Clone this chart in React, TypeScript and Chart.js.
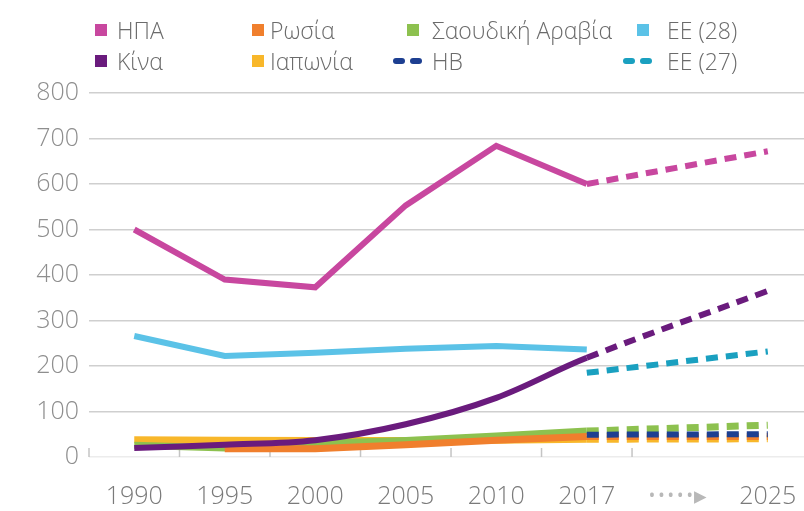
import React, { useEffect, useRef } from 'react';
import { Chart, registerables } from 'chart.js';

Chart.register(...registerables);

// ---- data ----
const xLabels = ['1990', '1995', '2000', '2005', '2010', '2017', '•••••▸', '2025'];
const usa = [500, 390, 373, 553, 684, 600, null, 672];
const china = [20, 27, 37, 72, 130, 218, null, 365];
const russia = [null, 18, 18, 27, 37, 45, null, 45];
const japan = [38, 37, 36, 36, 37, 39, null, 40];
const saudi = [26, 20, 30, 36, 46, 57, null, 70];
const eu28 = [266, 222, 229, 238, 244, 236, null, null];
const uk = [null, null, null, null, null, 49, null, 50];
const eu27 = [null, null, null, null, null, 185, null, 232];
const yTicks = [0, 100, 200, 300, 400, 500, 600, 700, 800];

const FONT = '"Open Sans", sans-serif';

const C = {
  usa: '#c8479f',
  china: '#6a1b7d',
  russia: '#f07f2d',
  japan: '#f8b72a',
  saudi: '#8dc14f',
  eu28: '#5bc2e7',
  uk: '#1d3f91',
  eu27: '#1aa0c0',
};

const toPts = (arr: (number | null)[]) => arr.map((v, i) => ({ x: i, y: v }));

const legendItems = [
  { label: 'ΗΠΑ', color: C.usa, kind: 'box', mx: 95, tx: 117, row: 0 },
  { label: 'Ρωσία', color: C.russia, kind: 'box', mx: 252, tx: 270, row: 0 },
  { label: 'Σαουδική Αραβία', color: C.saudi, kind: 'box', mx: 407, tx: 432, row: 0 },
  { label: 'ΕΕ (28)', color: C.eu28, kind: 'box', mx: 637, tx: 667, row: 0 },
  { label: 'Κίνα', color: C.china, kind: 'box', mx: 95, tx: 117, row: 1 },
  { label: 'Ιαπωνία', color: C.japan, kind: 'box', mx: 252, tx: 270, row: 1 },
  { label: 'ΗΒ', color: C.uk, kind: 'dash', mx: 393, tx: 432, row: 1 },
  { label: 'ΕΕ (27)', color: C.eu27, kind: 'dash', mx: 623, tx: 667, row: 1 },
];

const tickMarks = {
  id: 'tickMarks',
  beforeDatasetsDraw(chart: any) {
    const xs = chart.scales.x;
    const bottom = chart.chartArea.bottom;
    const ctx = chart.ctx;
    ctx.save();
    ctx.strokeStyle = '#c4c4c4';
    ctx.lineWidth = 1.5;
    for (let i = 0; i <= 6; i++) {
      const px = xs.getPixelForValue(i - 0.5);
      ctx.beginPath();
      ctx.moveTo(px, bottom - 9);
      ctx.lineTo(px, bottom);
      ctx.stroke();
    }
    ctx.restore();
  },
};

export default function App() {
  const ref = useRef<HTMLCanvasElement>(null);

  useEffect(() => {
    if (!ref.current) return;
    const dash = [12, 8];
    const seg = {
      borderDash: (ctx: any) => (ctx.p0DataIndex >= 5 ? dash : undefined),
    };
    const mk = (label: string, data: (number | null)[], color: string, extra: any = {}) => ({
      label,
      data: toPts(data),
      borderColor: color,
      backgroundColor: color,
      borderWidth: 6,
      pointRadius: 0,
      pointHoverRadius: 0,
      spanGaps: true,
      tension: 0,
      fill: false,
      segment: seg,
      ...extra,
    });
    const chart = new Chart(ref.current, {
      type: 'line',
      data: {
        datasets: [
          mk('ΗΒ', uk, C.uk, { borderDash: dash, segment: undefined, order: 0 }),
          mk('Κίνα', china, C.china, { tension: 0.35, order: 1 }),
          mk('ΗΠΑ', usa, C.usa, { order: 2 }),
          mk('ΕΕ (27)', eu27, C.eu27, { borderDash: dash, segment: undefined, order: 3 }),
          mk('ΕΕ (28)', eu28, C.eu28, { order: 4 }),
          mk('Ρωσία', russia, C.russia, { order: 5, borderWidth: 7 }),
          mk('Σαουδική Αραβία', saudi, C.saudi, { order: 6, borderWidth: 7 }),
          mk('Ιαπωνία', japan, C.japan, { order: 7, borderWidth: 7 }),
        ],
      },
      options: {
        animation: false,
        responsive: false,
        maintainAspectRatio: false,
        layout: { padding: { top: 93, right: 0, left: 0, bottom: 0 } },
        plugins: { legend: { display: false }, tooltip: { enabled: false } },
        scales: {
          x: {
            type: 'linear',
            min: -0.5,
            max: 7.4,
            afterBuildTicks: (s: any) => {
              s.ticks = xLabels.map((_, i) => ({ value: i }));
            },
            afterFit: (s: any) => {
              s.height = 54;
              s.paddingLeft = 0;
              s.paddingRight = 0;
            },
            grid: { display: false, drawTicks: false },
            border: { display: false },
            ticks: {
              autoSkip: false,
              maxRotation: 0,
              padding: 25,
              callback: (v: any) => xLabels[v as number] ?? '',
              color: (ctx: any) => (ctx.index === 6 ? '#b8b8b8' : '#7a7a7a'),
              font: { family: FONT, size: 25, weight: 300 },
            },
          },
          y: {
            min: 0,
            max: 800,
            afterBuildTicks: (s: any) => {
              s.ticks = yTicks.map((v) => ({ value: v }));
            },
            afterFit: (s: any) => {
              s.width = 89;
              s.paddingTop = 0;
              s.paddingBottom = 0;
            },
            grid: {
              drawTicks: false,
              lineWidth: 1.5,
              color: (ctx: any) => (ctx.tick && ctx.tick.value === 0 ? '#ececec' : '#cfcfcf'),
            },
            border: { display: false },
            ticks: {
              padding: 10,
              color: '#8e8e8e',
              font: { family: FONT, size: 25, weight: 300 },
            },
          },
        },
      },
      plugins: [tickMarks],
    });
    return () => chart.destroy();
  }, []);

  return (
    <div
      style={{
        position: 'absolute',
        left: 0,
        top: 0,
        width: 804,
        height: 511,
        background: '#fff',
        fontFamily: FONT,
      }}
    >
      <canvas ref={ref} width={804} height={511} style={{ display: 'block' }} />
      {legendItems.map((it) => {
        const cy = it.row === 0 ? 30 : 61;
        return (
          <React.Fragment key={it.label}>
            {it.kind === 'box' ? (
              <div
                style={{
                  position: 'absolute',
                  left: it.mx,
                  top: cy - 6,
                  width: 12,
                  height: 12,
                  background: it.color,
                }}
              />
            ) : (
              <>
                <div
                  style={{
                    position: 'absolute',
                    left: it.mx,
                    top: cy - 3,
                    width: 12,
                    height: 6,
                    borderRadius: 3,
                    background: it.color,
                  }}
                />
                <div
                  style={{
                    position: 'absolute',
                    left: it.mx + 17,
                    top: cy - 3,
                    width: 12,
                    height: 6,
                    borderRadius: 3,
                    background: it.color,
                  }}
                />
              </>
            )}
            <div
              style={{
                position: 'absolute',
                left: it.tx,
                top: cy - 17,
                height: 34,
                lineHeight: '34px',
                fontSize: 23,
                fontWeight: 300,
                color: '#6b6b6b',
                whiteSpace: 'nowrap',
              }}
            >
              {it.label}
            </div>
          </React.Fragment>
        );
      })}
    </div>
  );
}
